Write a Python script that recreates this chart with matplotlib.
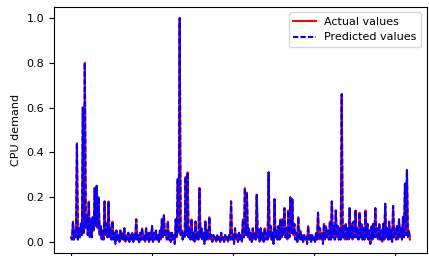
import numpy as np
from matplotlib import pyplot as plt

# CPU demand trace: local highs and the lows between them
peaks = [0.02, 0.09, 0.05, 0.44, 0.06, 0.08, 0.60, 0.80, 0.12, 0.18,
         0.10, 0.11, 0.24, 0.25, 0.20, 0.07, 0.05, 0.18, 0.08, 0.18,
         0.06, 0.09, 0.04, 0.05, 0.03, 0.05, 0.04, 0.06, 0.03, 0.04,
         0.03, 0.04, 0.03, 0.10, 0.03, 0.04, 0.06, 0.03, 0.06, 0.04,
         0.04, 0.07, 0.04, 0.05, 0.03, 0.05, 0.10, 0.12, 0.05, 0.09,
         0.04, 0.04, 0.03, 0.10, 0.28, 1.00, 0.05, 0.04, 0.29, 0.31,
         0.06, 0.10, 0.04, 0.09, 0.04, 0.24, 0.06, 0.04, 0.09, 0.05,
         0.11, 0.03, 0.03, 0.02, 0.03, 0.02, 0.04, 0.02, 0.03, 0.02,
         0.03, 0.18, 0.03, 0.06, 0.03, 0.04, 0.03, 0.10, 0.24, 0.22,
         0.06, 0.04, 0.06, 0.04, 0.21, 0.05, 0.06, 0.04, 0.06, 0.04,
         0.31, 0.07, 0.04, 0.19, 0.05, 0.07, 0.10, 0.10, 0.15, 0.06,
         0.14, 0.20, 0.19, 0.08, 0.04, 0.11, 0.05, 0.03, 0.03, 0.02,
         0.07, 0.03, 0.03, 0.02, 0.04, 0.13, 0.06, 0.04, 0.08, 0.07,
         0.05, 0.09, 0.18, 0.07, 0.14, 0.07, 0.06, 0.66, 0.07, 0.08,
         0.06, 0.15, 0.08, 0.09, 0.14, 0.06, 0.13, 0.08, 0.06, 0.14,
         0.08, 0.05, 0.07, 0.08, 0.15, 0.06, 0.08, 0.05, 0.08, 0.17,
         0.06, 0.09, 0.05, 0.16, 0.06, 0.07, 0.10, 0.06, 0.11, 0.26,
         0.32, 0.05]

troughs = [0.01, 0.01, 0.02, 0.01, 0.02, 0.03, 0.04, 0.06, 0.03, 0.02,
           0.02, 0.05, 0.07, 0.06, 0.03, 0.01, 0.01, 0.03, 0.02, 0.02,
           0.01, 0.01, 0.00, 0.01, 0.00, 0.01, 0.01, 0.00, 0.01, 0.00,
           0.01, 0.00, 0.01, 0.01, 0.00, 0.01, 0.01, 0.00, 0.01, 0.00,
           0.01, 0.00, 0.01, 0.01, 0.00, 0.01, 0.02, 0.03, 0.01, 0.01,
           0.00, 0.01, 0.00, 0.02, 0.04, 0.03, 0.01, 0.02, 0.03, 0.02,
           0.01, 0.01, 0.00, 0.01, 0.01, 0.02, 0.01, 0.00, 0.01, 0.01,
           0.01, 0.00, 0.01, 0.00, 0.01, 0.00, 0.01, 0.00, 0.01, 0.00,
           0.01, 0.01, 0.00, 0.01, 0.00, 0.01, 0.00, 0.02, 0.03, 0.02,
           0.01, 0.00, 0.01, 0.01, 0.02, 0.00, 0.01, 0.00, 0.01, 0.01,
           0.02, 0.01, 0.00, 0.02, 0.01, 0.01, 0.02, 0.03, 0.02, 0.01,
           0.02, 0.04, 0.03, 0.01, 0.00, 0.01, 0.01, 0.00, 0.01, 0.00,
           0.01, 0.00, 0.01, 0.00, 0.01, 0.01, 0.01, 0.00, 0.01, 0.02,
           0.01, 0.01, 0.02, 0.01, 0.02, 0.01, 0.01, 0.02, 0.01, 0.01,
           0.01, 0.02, 0.01, 0.02, 0.02, 0.01, 0.02, 0.01, 0.01, 0.02,
           0.01, 0.00, 0.01, 0.02, 0.02, 0.01, 0.01, 0.00, 0.01, 0.02,
           0.01, 0.01, 0.00, 0.02, 0.01, 0.01, 0.02, 0.01, 0.02, 0.03,
           0.02, 0.01]

pred_peaks = [0.02, 0.09, 0.05, 0.44, 0.06, 0.08, 0.60, 0.80, 0.12, 0.18,
              0.10, 0.11, 0.24, 0.25, 0.20, 0.07, 0.05, 0.18, 0.08, 0.18,
              0.06, 0.09, 0.04, 0.05, 0.03, 0.05, 0.04, 0.06, 0.03, 0.04,
              0.03, 0.04, 0.03, 0.10, 0.03, 0.04, 0.06, 0.03, 0.06, 0.04,
              0.04, 0.07, 0.04, 0.05, 0.03, 0.05, 0.10, 0.12, 0.05, 0.09,
              0.04, 0.04, 0.03, 0.10, 0.28, 1.00, 0.05, 0.04, 0.29, 0.31,
              0.06, 0.10, 0.04, 0.09, 0.04, 0.24, 0.06, 0.04, 0.09, 0.05,
              0.11, 0.03, 0.03, 0.02, 0.03, 0.02, 0.04, 0.02, 0.03, 0.02,
              0.03, 0.18, 0.03, 0.06, 0.03, 0.04, 0.03, 0.10, 0.24, 0.22,
              0.06, 0.04, 0.06, 0.04, 0.21, 0.05, 0.06, 0.04, 0.06, 0.04,
              0.31, 0.07, 0.04, 0.19, 0.05, 0.07, 0.10, 0.10, 0.15, 0.06,
              0.14, 0.20, 0.19, 0.08, 0.04, 0.11, 0.05, 0.03, 0.03, 0.02,
              0.07, 0.03, 0.03, 0.02, 0.04, 0.13, 0.06, 0.04, 0.08, 0.07,
              0.05, 0.09, 0.18, 0.07, 0.14, 0.07, 0.06, 0.66, 0.07, 0.08,
              0.06, 0.15, 0.08, 0.09, 0.14, 0.06, 0.13, 0.08, 0.06, 0.14,
              0.08, 0.05, 0.07, 0.08, 0.15, 0.06, 0.08, 0.05, 0.08, 0.17,
              0.06, 0.09, 0.05, 0.16, 0.06, 0.07, 0.10, 0.06, 0.11, 0.26,
              0.32, 0.05]

pred_troughs = [0.01, 0.01, 0.02, 0.01, 0.02, 0.03, 0.04, 0.06, 0.03, 0.02,
                0.02, 0.05, 0.07, 0.06, 0.03, 0.01, 0.01, 0.03, 0.02, 0.02,
                0.01, 0.01, -0.01, 0.01, 0.00, 0.01, 0.01, 0.00, 0.01, 0.00,
                0.01, 0.00, 0.01, 0.01, -0.01, 0.01, 0.01, 0.00, 0.01, 0.00,
                0.01, 0.00, 0.01, 0.01, 0.00, 0.01, 0.02, 0.03, 0.01, 0.01,
                0.00, 0.01, -0.01, 0.02, 0.04, 0.03, 0.01, 0.02, 0.03, 0.02,
                0.01, 0.01, 0.00, 0.01, 0.01, 0.02, 0.01, -0.01, 0.01, 0.01,
                0.01, 0.00, 0.01, 0.00, 0.01, 0.00, 0.01, 0.00, 0.01, 0.00,
                0.01, 0.01, -0.01, 0.01, 0.00, 0.01, 0.00, 0.02, 0.03, 0.02,
                0.01, 0.00, 0.01, 0.01, 0.02, 0.00, 0.01, 0.00, 0.01, 0.01,
                0.02, 0.01, -0.01, 0.02, 0.01, 0.01, 0.02, 0.03, 0.02, 0.01,
                0.02, 0.04, 0.03, 0.01, 0.00, 0.01, 0.01, 0.00, 0.01, -0.01,
                0.01, 0.00, 0.01, 0.00, 0.01, 0.01, 0.01, -0.01, 0.01, 0.02,
                0.01, 0.01, 0.02, 0.01, 0.02, 0.01, 0.01, 0.02, 0.01, 0.01,
                0.01, 0.02, 0.01, 0.02, 0.02, 0.01, 0.02, 0.01, 0.01, 0.02,
                0.01, -0.01, 0.01, 0.02, 0.02, 0.01, 0.01, 0.00, 0.01, 0.02,
                0.01, 0.01, 0.00, 0.02, 0.01, 0.01, 0.02, 0.01, 0.02, 0.03,
                0.02, 0.01]

# interleave highs and lows into one series per line
actual = np.ravel(np.column_stack([peaks, troughs]))
predicted = np.ravel(np.column_stack([pred_peaks, pred_troughs]))
x = np.arange(len(actual))
xticks = [0, 82, 164, 246, 328]

fig = plt.figure(figsize=(4.29, 2.56), dpi=100)
ax = fig.add_axes([0.126, 0.012, 0.869, 0.961])
ax.plot(x, actual, color='red', lw=1.5, label='Actual values')
ax.plot(x, predicted, color='blue', lw=1.5, ls=(0, (2.5, 1.1)), label='Predicted values')
ax.set_xticks(xticks)
ax.set_xticklabels([])
ax.set_yticks([0.0, 0.2, 0.4, 0.6, 0.8, 1.0])
ax.set_ylim(-0.05, 1.05)
ax.tick_params(labelsize=8)
ax.set_ylabel('CPU demand', fontsize=8)
ax.legend(loc='upper right', fontsize=8)
plt.savefig('out.png')
